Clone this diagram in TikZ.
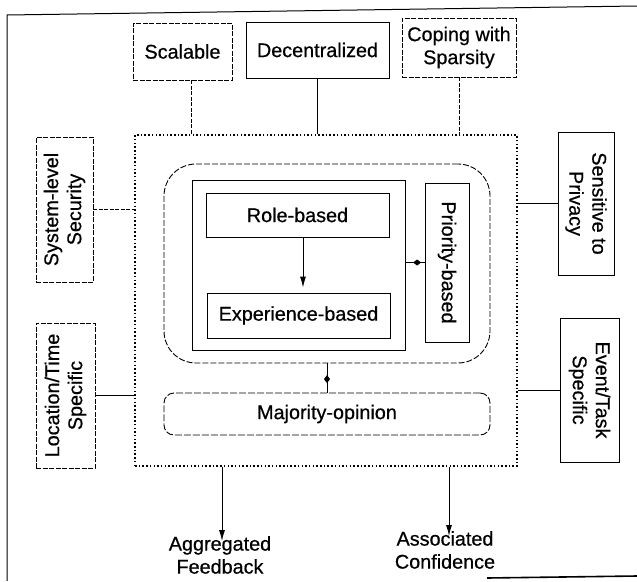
\documentclass[tikz,border=0pt]{standalone}
\usepackage{fontspec}
\setmainfont{Liberation Sans}
\newfontfamily\diafont{Liberation Sans}[FakeBold=0.6]
\usetikzlibrary{arrows.meta,decorations.markings}
\begin{document}
\begin{tikzpicture}[x=1pt,y=-1pt,
  every node/.style={font=\diafont\fontsize{19.8}{23}\selectfont, align=center, inner sep=0pt},
  solidbox/.style={draw, line width=0.9pt, rectangle},
  dashbox/.style={draw, line width=0.9pt, rectangle, dash pattern=on 5pt off 1.5pt},
  dotbox/.style={draw, line width=1.5pt, rectangle, dash pattern=on 1.5pt off 2.2pt},
  conn/.style={line width=0.9pt},
  dconn/.style={line width=0.9pt, dash pattern=on 4pt off 1.5pt},
  midmark/.style={postaction={decorate}, decoration={markings, mark=at position #1 with {\arrow{Diamond[length=8pt,width=6pt]}}}},
  arrowend/.style={-{Latex[length=11pt,width=6pt]}}
]
\useasboundingbox (0,0) rectangle (637,581);
% frame (scan border)
\coordinate (ftl) at (7,15);
\coordinate (ftr) at (637,6);
\coordinate (fbl) at (7,581);
\coordinate (fb1) at (487,578);
\coordinate (fb2) at (637,576);
\draw[line width=1pt] (fbl) -- (ftl) -- (ftr);
\draw[line width=1.6pt] (fb1) -- (fb2);

% top boxes
\node[dashbox, minimum width=99pt, minimum height=57pt] (scal) at (182.5,51.5) {Scalable};
\node[solidbox, minimum width=143pt, minimum height=56pt] (dec) at (317.5,50) {Decentralized};
\node[dashbox, minimum width=114pt, minimum height=59pt] (cop) at (459,47.5) {Coping with\\Sparsity};

% big dotted box
\node[dotbox, minimum width=382pt, minimum height=331pt] (big) at (326,300.5) {};

% side boxes
\node[dashbox, minimum width=57pt, minimum height=145pt] (sys) at (64.5,209.5) {};
\node[rotate=90] at (sys.center) {System-level\\Security};
\node[solidbox, minimum width=56pt, minimum height=143pt] (sens) at (586,203.5) {};
\node[rotate=-90] at (sens.center) {Sensitive to\\Privacy};
\node[dashbox, minimum width=59pt, minimum height=145pt] (loc) at (65.5,395.5) {};
\node[rotate=90] at (loc.center) {Location/Time\\Specific};
\node[solidbox, minimum width=59pt, minimum height=144pt] (evt) at (589.5,390) {};
\node[rotate=-90] at (evt.center) {Event/Task\\Specific};

% rounded region and inner boxes
\node[draw, line width=0.9pt, dash pattern=on 6pt off 2pt, rounded corners=32pt, minimum width=326pt, minimum height=199pt] (round) at (327,263.5) {};
\node[solidbox, minimum width=213pt, minimum height=170pt] (inner) at (298.5,265) {};
\node[solidbox, minimum width=183pt, minimum height=44pt] (role) at (297.5,215) {Role-based};
\node[solidbox, minimum width=183pt, minimum height=45pt] (exp) at (298.5,315.5) {Experience-based};
\node[solidbox, minimum width=44pt, minimum height=159pt] (prio) at (447,262.5) {};
\node[rotate=-90] at (prio.center) {Priority-based};
\node[draw, line width=0.9pt, dash pattern=on 7pt off 2pt, rounded corners=10pt, minimum width=326pt, minimum height=42pt] (maj) at (327,414) {Majority-opinion};

% outputs
\node (agg) at (220,555) {Aggregated\\Feedback};
\node (assoc) at (445,550) {Associated\\Confidence};

% connectors
\draw[dconn] ([xshift=8.5pt]scal.south) -- ([xshift=8.5pt]scal.south |- big.north);
\draw[conn] (dec.south) -- (dec.south |- big.north);
\draw[dconn] (cop.south) -- (cop.south |- big.north);
\draw[dconn] (sys.east) -- (sys.east -| big.west);
\draw[conn] (loc.east) -- (loc.east -| big.west);
\draw[conn] (sens.west) -- (sens.west -| big.east);
\draw[conn] (evt.west) -- (evt.west -| big.east);
\draw[conn, arrowend, shorten >=5pt] ([xshift=5.5pt]role.south) -- ([xshift=5.5pt]role.south |- exp.north);
\draw[conn, midmark=0.6] (prio.west) -- (prio.west -| inner.east);
\draw[conn, midmark=0.6] (maj.north) -- (round.south);
\coordinate (aggtop) at ([xshift=2pt]agg.north |- big.south);
\coordinate (asstop) at ([xshift=4pt]assoc.north |- big.south);
\draw[conn, arrowend] (aggtop) -- ([xshift=2pt,yshift=-5pt]agg.north);
\draw[conn, arrowend] (asstop) -- ([xshift=4pt,yshift=-5pt]assoc.north);
\end{tikzpicture}
\end{document}
